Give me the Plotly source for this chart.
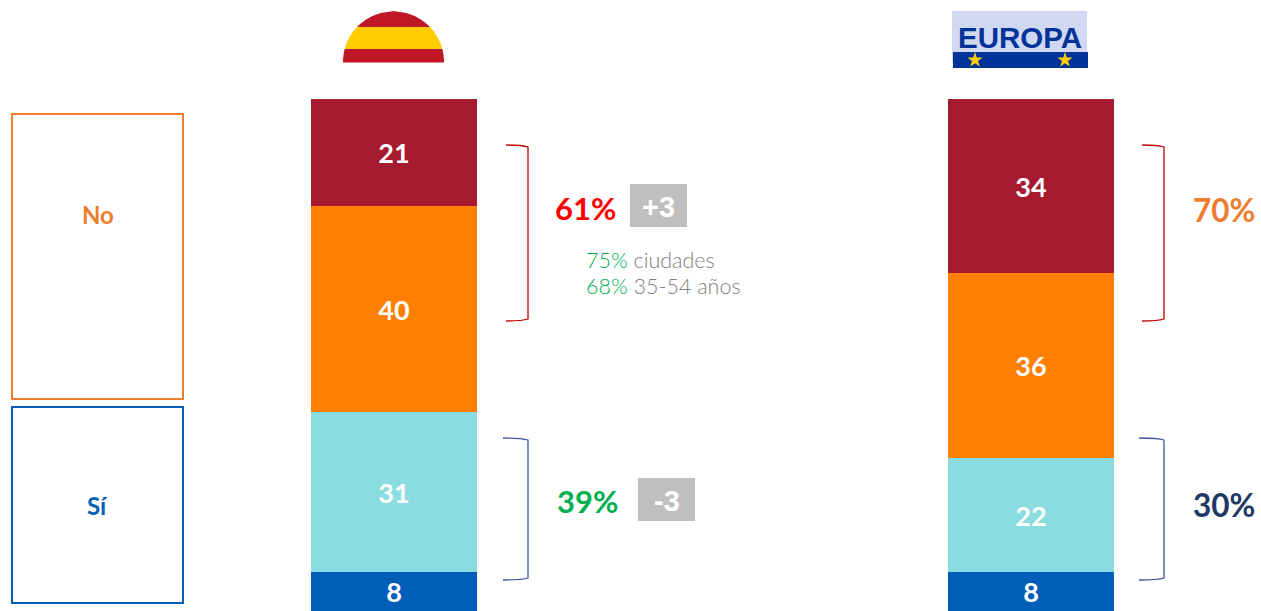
import numpy as np
import plotly.graph_objects as go

regions = [0, 1]
segment_names = ["Sí, segmento 1", "Sí, segmento 2", "No, segmento 1", "No, segmento 2"]
segment_colors = ["#005EB8", "#8ADCE0", "#FF8000", "#A6192E"]
segment_values = [
    [7.6, 7.6],
    [31.25, 22.3],
    [40.2, 36.1],
    [20.95, 34.0],
]
segment_labels = [
    ["8", "8"],
    ["31", "22"],
    ["40", "36"],
    ["21", "34"],
]

W, H = 1261, 611
FONT = "Lato"
fig = go.Figure()
for name, color, vals, labels in zip(segment_names, segment_colors, segment_values, segment_labels):
    fig.add_trace(go.Bar(
        x=regions, y=vals, name=name, width=166 / 636.5, marker=dict(color=color, line=dict(width=0)),
        text=labels, textposition="inside", insidetextanchor="middle", textangle=0,
        constraintext="none", cliponaxis=False,
        textfont=dict(family=FONT, size=27, color="white", weight="bold"),
        hoverinfo="skip", showlegend=False,
    ))

# overlay axis pair in screen units for the decorations
fig.add_trace(go.Scatter(x=[0, W], y=[0, H], xaxis="x2", yaxis="y2", mode="markers",
                         marker=dict(opacity=0), showlegend=False, hoverinfo="skip"))

shapes, notes = [], []


def rect(x0, y0, x1, y1, fill="rgba(0,0,0,0)", line=None, width=0):
    shapes.append(dict(type="rect", xref="x2", yref="y2", x0=x0, y0=y0, x1=x1, y1=y1, fillcolor=fill,
                       line=dict(color=line or fill, width=width), layer="above"))


def path(d, fill=None, line=None, width=0):
    s = dict(type="path", xref="x2", yref="y2", path=d, layer="above",
             line=dict(color=line or "rgba(0,0,0,0)", width=width))
    if fill:
        s["fillcolor"] = fill
    shapes.append(s)


def text(x, y, t, size, color, weight="bold", family=FONT, anchor="center"):
    notes.append(dict(xref="x2", yref="y2", x=x, y=y, text=t, showarrow=False, xanchor=anchor, yanchor="middle",
                      font=dict(family=family, size=size, color=color, weight=weight)))


def bracket(x0, x1, y0, y1, color):
    path(f"M{x0},{y0} Q{x1-6},{y0} {x1},{y0+2} L{x1},{y1-2} Q{x1-6},{y1} {x0},{y1}", line=color, width=1.3)


def disc_band(cx, cy, r, y0, y1, color):
    ys = np.linspace(y0, y1, 24)
    half = np.sqrt(np.maximum(r ** 2 - (ys - cy) ** 2, 0))
    left = [f"{cx - h:.2f},{y:.2f}" for h, y in zip(half, ys)]
    right = [f"{cx + h:.2f},{y:.2f}" for h, y in zip(half[::-1], ys[::-1])]
    path("M" + " L".join(left + right) + " Z", fill=color)


def star(cx, cy, r, color):
    ang = np.arange(10) * np.pi / 5 - np.pi / 2
    rad = np.where(np.arange(10) % 2 == 0, r, r * 0.4)
    pts = [f"{cx + a * np.cos(t):.2f},{cy + a * np.sin(t):.2f}" for a, t in zip(rad, ang)]
    path("M" + " L".join(pts) + " Z", fill=color)


# category boxes
rect(12, 114, 183, 399, line="#ED7D31", width=2)
rect(12, 407, 183, 603, line="#005EB8", width=2)
text(97.5, 214.5, "No", 24, "#ED7D31")
text(97, 505.5, "Sí", 24, "#005EB8")

# Spanish flag
disc_band(393.5, 62, 50.5, 11, 27, "#BF1725")
disc_band(393.5, 62, 50.5, 27, 49, "#FFCC00")
disc_band(393.5, 62, 50.5, 49, 62.5, "#BF1725")

# Europe flag
rect(952, 11, 1087, 63, fill="#D0D9F1")
rect(953, 52, 1088, 68, fill="#003399")
text(1020, 37, "EUROPA", 29.5, "#003399", family="Liberation Sans")
star(975, 60, 8, "#FFCC00")
star(1065, 60, 8, "#FFCC00")

# brackets
bracket(506, 528, 145, 321, "#C00000")
bracket(503, 528, 438, 580, "#3F55A5")
bracket(1142, 1164, 145, 321, "#C00000")
bracket(1139, 1164, 438, 580, "#3F55A5")

# totals
text(585, 208, "61%", 31, "#FF0000")
text(587.5, 501, "39%", 31, "#00B050")
text(1224, 210, "70%", 31.5, "#ED7D31")
text(1224, 505, "30%", 31.5, "#1F3864")

# change boxes
rect(630, 184, 687, 227, fill="#BFBFBF")
text(658.5, 207, "+3", 29, "white", family="Liberation Sans")
rect(638, 478, 695, 521, fill="#BFBFBF")
text(666.5, 501, "-3", 29, "white", family="Liberation Sans")

# breakdown lines
text(584, 260, "<span style='color:#00B050'>75%</span> ciudades", 21.5, "#808080", weight=300, anchor="left")
text(584, 286, "<span style='color:#00B050'>68%</span> 35-54 años", 21.5, "#808080", weight=300, anchor="left")

fig.update_layout(
    width=W, height=H, margin=dict(l=0, r=0, t=0, b=0), barmode="stack", bargap=0,
    paper_bgcolor="white", plot_bgcolor="white", shapes=shapes, annotations=notes,
    xaxis=dict(domain=[0, 1], range=[-394 / 636.5, (W - 394) / 636.5], visible=False, fixedrange=True),
    yaxis=dict(domain=[0, 1], range=[0, 100 * H / 512], visible=False, fixedrange=True),
    xaxis2=dict(range=[0, W], visible=False, overlaying="x", anchor="y2", fixedrange=True),
    yaxis2=dict(range=[H, 0], visible=False, overlaying="y", anchor="x2", fixedrange=True),
)
fig.write_html("out.html", config=dict(displayModeBar=False),
               post_script="document.body.style.margin='0';document.body.style.overflow='hidden';")
